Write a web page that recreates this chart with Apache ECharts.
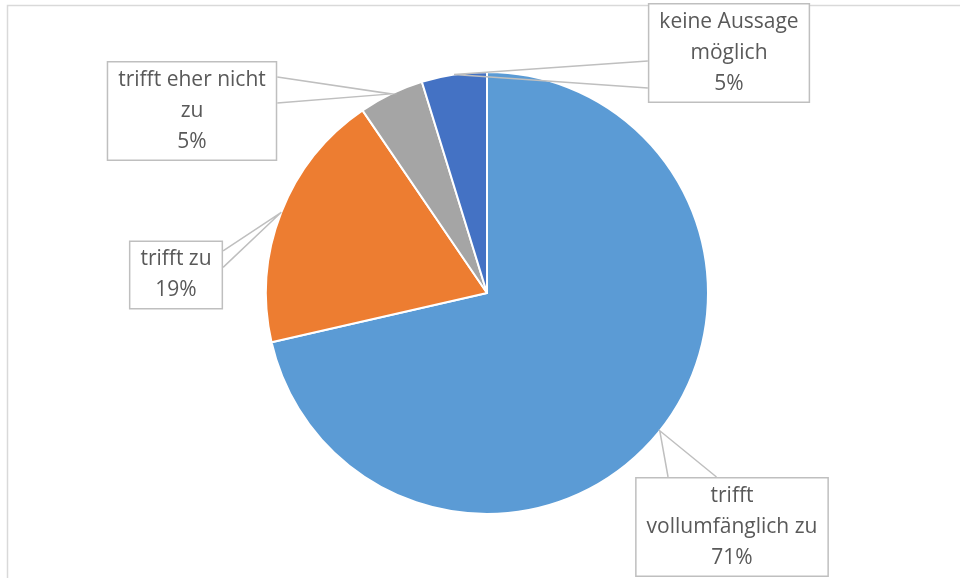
<!DOCTYPE html>
<html>
<head>
<meta charset="utf-8">
<script src="https://cdn.jsdelivr.net/npm/echarts@6/dist/echarts.min.js"></script>
<style>
  html, body { margin: 0; padding: 0; background: #fff; }
  #chart { width: 960px; height: 578px; }
</style>
</head>
<body>
<div id="chart"></div>
<script>
// Antworten (Anzahl)
const categories = ['trifft vollumfänglich zu', 'trifft zu', 'trifft eher nicht zu', 'keine Aussage möglich']
const counts = [30, 8, 2, 2]
// wie im Original umbrochen
const wrappedNames = ['trifft\nvollumfänglich zu', 'trifft zu', 'trifft eher nicht\nzu', 'keine Aussage\nmöglich']
const colors = ['#5B9BD5', '#ED7D31', '#A5A5A5', '#4472C4']

const pieCenter = [487, 293]
const pieRadius = 221

// Lage der Beschriftungskästen (Mitte) und wo der Keil am Kasten ansetzt
const callouts = [
  { cx: 732, cy: 527, side: 'top', base: [0.17, 0.42] },
  { cx: 176, cy: 275, side: 'right', base: [0.15, 0.39] },
  { cx: 192, cy: 111, side: 'right', base: [0.16, 0.42] },
  { cx: 729, cy: 53, side: 'left', base: [0.58, 0.85] },
]

// Ankerpunkt auf dem Rand: Mitte des jeweiligen Kreissegments
function anchorPoint(idx) {
  const total = counts.reduce((s, v) => s + v, 0)
  let before = 0
  for (let i = 0; i < idx; i++) before += counts[i]
  const ang = ((before + counts[idx] / 2) / total) * Math.PI * 2
  return [pieCenter[0] + pieRadius * Math.sin(ang), pieCenter[1] - pieRadius * Math.cos(ang)]
}

const mychart = echarts.init(document.getElementById('chart'))

const pieData = categories.map((name, i) => ({
  name: name,
  value: counts[i],
  itemStyle: { color: colors[i] },
}))

const option = {
  animation: false,
  graphic: [
    {
      type: 'rect',
      shape: { x: 7.5, y: 5.5, width: 1000, height: 1000 },
      style: { fill: 'none', stroke: '#d9d9d9', lineWidth: 1.5 },
      silent: true,
    },
  ],
  series: [
    {
      // Segmente
      type: 'pie',
      z: 2,
      center: pieCenter,
      radius: pieRadius,
      startAngle: 90,
      clockwise: true,
      itemStyle: {
        borderColor: '#fff',
        borderWidth: 2,
      },
      label: { show: false },
      labelLine: { show: false },
      data: pieData,
    },
    {
      // Beschriftungen mit Keil, über den Segmenten
      type: 'pie',
      z: 3,
      silent: true,
      center: pieCenter,
      radius: pieRadius,
      startAngle: 90,
      clockwise: true,
      avoidLabelOverlap: false,
      itemStyle: {
        color: 'rgba(0,0,0,0)',
        borderWidth: 0,
      },
      label: {
        show: true,
        position: 'outside',
        fontFamily: 'Open Sans',
        fontSize: 21,
        lineHeight: 31,
        color: '#595959',
        align: 'center',
        backgroundColor: '#fff',
        borderColor: '#bfbfbf',
        borderWidth: 1.5,
        padding: [2, 10],
        formatter: function (params) {
          return wrappedNames[params.dataIndex] + '\n' + Math.round(params.percent) + '%'
        },
      },
      labelLine: {
        show: true,
        showAbove: true,
        lineStyle: { color: '#bfbfbf', width: 1.5 },
      },
      labelLayout: function (params) {
        const c = callouts[params.dataIndex]
        const w = params.labelRect.width
        const h = params.labelRect.height
        const left = c.cx - w / 2
        const top = c.cy - h / 2
        const a = anchorPoint(params.dataIndex)
        let p1, p2
        if (c.side === 'top') {
          p1 = [left + w * c.base[0], top]
          p2 = [left + w * c.base[1], top]
        } else if (c.side === 'left') {
          p1 = [left, top + h * c.base[0]]
          p2 = [left, top + h * c.base[1]]
        } else {
          p1 = [left + w, top + h * c.base[0]]
          p2 = [left + w, top + h * c.base[1]]
        }
        return {
          x: c.cx,
          y: c.cy,
          align: 'center',
          verticalAlign: 'middle',
          labelLinePoints: [p1, a, p2],
        }
      },
      data: pieData.map((d) => ({ name: d.name, value: d.value })),
    },
  ],
}

mychart.setOption(option, true)
</script>
</body>
</html>
